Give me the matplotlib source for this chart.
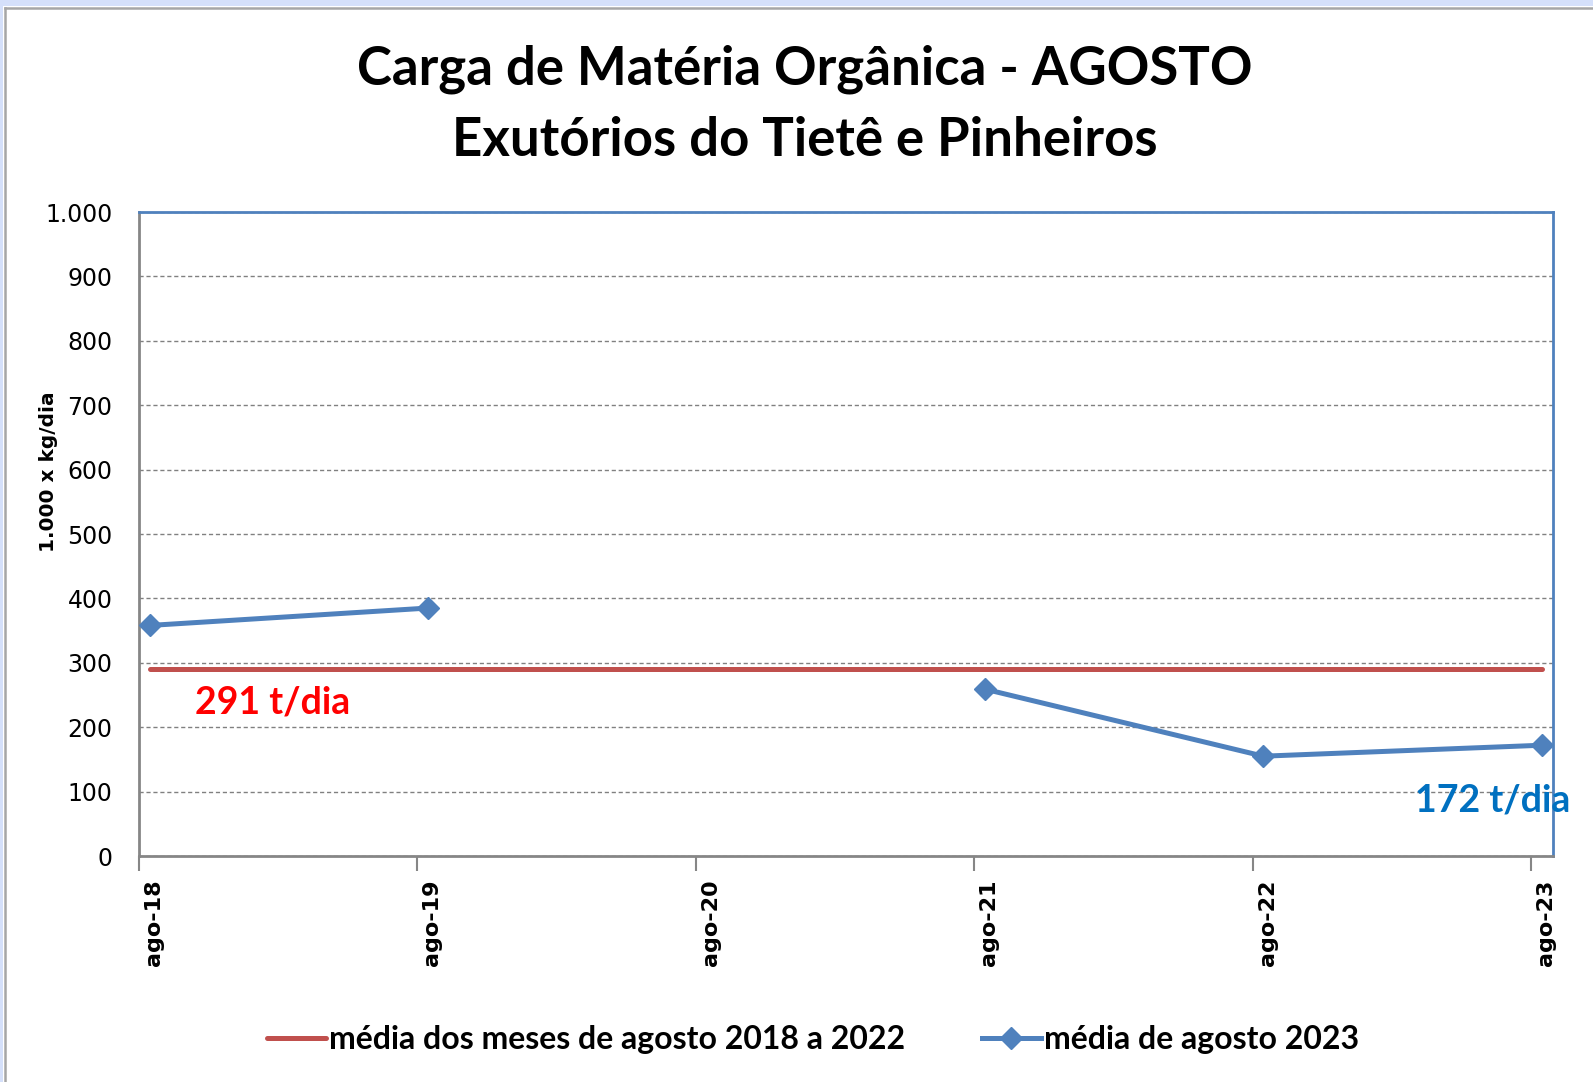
import matplotlib
matplotlib.use('Agg')
import matplotlib.pyplot as plt
import matplotlib.transforms as mtransforms
from matplotlib.lines import Line2D
from matplotlib.patches import Rectangle
import numpy as np
from datetime import datetime

# ---- data ----
datas = ['2018-08-15', '2019-08-15', '2020-08-15', '2021-08-15', '2022-08-15', '2023-08-15']
media_2018_2022 = [291, 291, 291, 291, 291, 291]
media_agosto_2023 = [358, 385, np.nan, 259, 155, 172]
ticks_x = ['2018-08-01', '2019-08-01', '2020-08-01', '2021-08-01', '2022-08-01', '2023-08-01']
rotulos_x = ['ago-18', 'ago-19', 'ago-20', 'ago-21', 'ago-22', 'ago-23']
ticks_y = [0, 100, 200, 300, 400, 500, 600, 700, 800, 900, 1000]
rotulos_y = ['0', '100', '200', '300', '400', '500', '600', '700', '800', '900', '1.000']
serie_legendas = ['média dos meses de agosto 2018 a 2022', 'média de agosto 2023']
titulo = ['Carga de Matéria Orgânica - AGOSTO', 'Exutórios do Tietê e Pinheiros']
rotulo_media = '291 t/dia'
rotulo_2023 = '172 t/dia'

to_dt = lambda s: datetime.strptime(s, '%Y-%m-%d')
x = [to_dt(d) for d in datas]
xt = [to_dt(d) for d in ticks_x]

W, H = 1593, 1082
fig = plt.figure(figsize=(W / 100, H / 100), dpi=100)
fig.patch.set_facecolor('white')

# outer frame
fig.add_artist(Rectangle((0, 1 - 6 / H), 1, 6 / H, transform=fig.transFigure,
                         facecolor='#D5E0FA', edgecolor='none'))
fig.add_artist(Rectangle((0, 0), 3 / W, 1, transform=fig.transFigure,
                         facecolor='#D5E0FA', edgecolor='none'))
fig.add_artist(Line2D([5 / W, 1], [1 - 8 / H, 1 - 8 / H], transform=fig.transFigure,
                      color='#A6A6A6', lw=1.8))
fig.add_artist(Line2D([5 / W, 5 / W], [0, 1 - 8 / H], transform=fig.transFigure,
                      color='#A6A6A6', lw=1.8))

L, R, T, B = 139, 1553, 212, 856
ax = fig.add_axes([L / W, 1 - B / H, (R - L) / W, (B - T) / H])

blue = '#4F81BD'
red = '#C0504D'

ax.plot(x, media_2018_2022, color=red, lw=3.6, solid_capstyle='round',
        label=serie_legendas[0], zorder=3)
ax.plot(x, media_agosto_2023, color=blue, lw=3.6, marker='D', markersize=11,
        label=serie_legendas[1], zorder=4)

ax.set_xlim(to_dt('2018-08-01'), to_dt('2023-08-30'))
ax.set_ylim(0, 1000)

ax.set_yticks(ticks_y)
ax.set_yticklabels(rotulos_y, fontsize=17, family='DejaVu Sans', color='black')
ax.tick_params(axis='y', length=0, pad=19)

ax.set_xticks(xt)
ax.set_xticklabels(rotulos_x, rotation=90, fontsize=16, fontweight='bold',
                   family='DejaVu Sans', ha='center', va='top')
ax.tick_params(axis='x', length=11, width=1.5, color='#868686', pad=6)
offset = mtransforms.ScaledTranslation(0.15, 0, fig.dpi_scale_trans)
for lab in ax.get_xticklabels():
    lab.set_transform(lab.get_transform() + offset)

ax.grid(axis='y', color='#808080', linestyle=(0, (3, 2)), lw=1.0)
ax.set_axisbelow(True)
for s in ['left', 'bottom']:
    ax.spines[s].set_color('#868686')
    ax.spines[s].set_linewidth(2)
for s in ['top', 'right']:
    ax.spines[s].set_color(blue)
    ax.spines[s].set_linewidth(2)

ax.set_ylabel('1.000 x kg/dia', fontsize=14.5, fontweight='bold', family='DejaVu Sans')
ax.yaxis.set_label_coords((58 - L) / (R - L), (856 - 472) / (B - T))

ax.text((195 - L) / (R - L), (856 - 703) / (B - T), rotulo_media, transform=ax.transAxes,
        color='#FF0000', fontsize=27, fontweight='bold', family='Lato',
        ha='left', va='center')
ax.text((1415 - L) / (R - L), (856 - 800) / (B - T), rotulo_2023, transform=ax.transAxes,
        color='#0070C0', fontsize=27, fontweight='bold', family='Lato',
        ha='left', va='center', clip_on=False)

fig.text(805 / W, 1 - 69 / H, titulo[0], ha='center', va='center',
         fontsize=38, fontweight='bold', family='Lato')
fig.text(805 / W, 1 - 140 / H, titulo[1], ha='center', va='center',
         fontsize=38, fontweight='bold', family='Lato')

leg = fig.legend(loc='center', bbox_to_anchor=(813 / W, 1 - 1040 / H), ncol=2,
                 frameon=False, prop={'family': 'Lato', 'weight': 'bold', 'size': 23},
                 handlelength=1.85, handletextpad=0.1, columnspacing=2.4)

fig.savefig('out.png', dpi=100, facecolor='white')
